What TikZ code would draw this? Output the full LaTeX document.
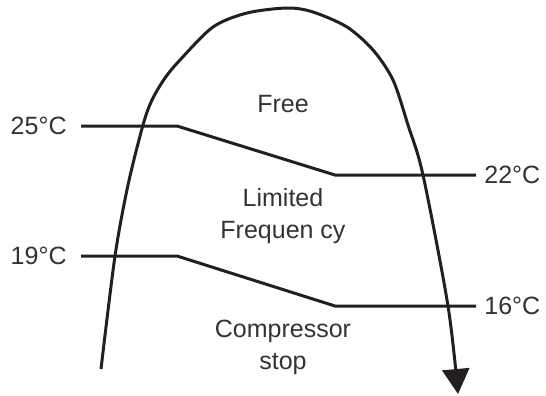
\documentclass[tikz,border=0pt]{standalone}
\usepackage{fontspec}
\setmainfont{Liberation Sans}
\usepackage{tikz}
\usetikzlibrary{arrows.meta,positioning}
\definecolor{linecol}{HTML}{231f20}
\definecolor{textcol}{HTML}{333333}

\begin{document}
\begin{tikzpicture}[x=0.5pt, y=-0.5pt, font=\fontsize{12.5}{16}\selectfont, text=textcol,
  templabel/.style={inner sep=0pt},
  zonelabel/.style={align=center, inner sep=0pt},
  limit/.style={draw=linecol, line width=1.5pt}]
\useasboundingbox (0,0) rectangle (546,396);

% switching lines
\coordinate (up1) at (81,126);
\coordinate (up2) at (177,126);
\coordinate (up3) at (335,175);
\coordinate (up4) at (476,175);
\coordinate (lo1) at (81,256);
\coordinate (lo2) at (177,256);
\coordinate (lo3) at (335,306);
\coordinate (lo4) at (476,306);

\node[templabel, left=7pt of up1] (t25) {25°C};
\node[templabel, right=4pt of up4] (t22) {22°C};
\node[templabel, left=7pt of lo1] (t19) {19°C};
\node[templabel, right=4pt of lo4] (t16) {16°C};

\draw[limit] (up1) -- (up2) -- (up3) -- (up4);
\draw[limit] (lo1) -- (lo2) -- (lo3) -- (lo4);

\node[zonelabel] (free) at (283,104) {Free};
\node[zonelabel] (limited) at (283,216) {Limited\\Frequen cy};
\node[zonelabel] (stop) at (283,347) {Compressor\\stop};

% trajectory
\draw[limit, -{Triangle[length=12.5pt, width=13.5pt]}] plot[smooth, tension=0.5] coordinates
  {(101,369) (115,256) (128,185) (143,125) (152,100) (165,78) (180,60) (213,27) (247,13) (287,8) (313,12) (347,27) (373,50) (393,80) (408,125) (423,175) (448,306) (458,394)};
\end{tikzpicture}
\end{document}
